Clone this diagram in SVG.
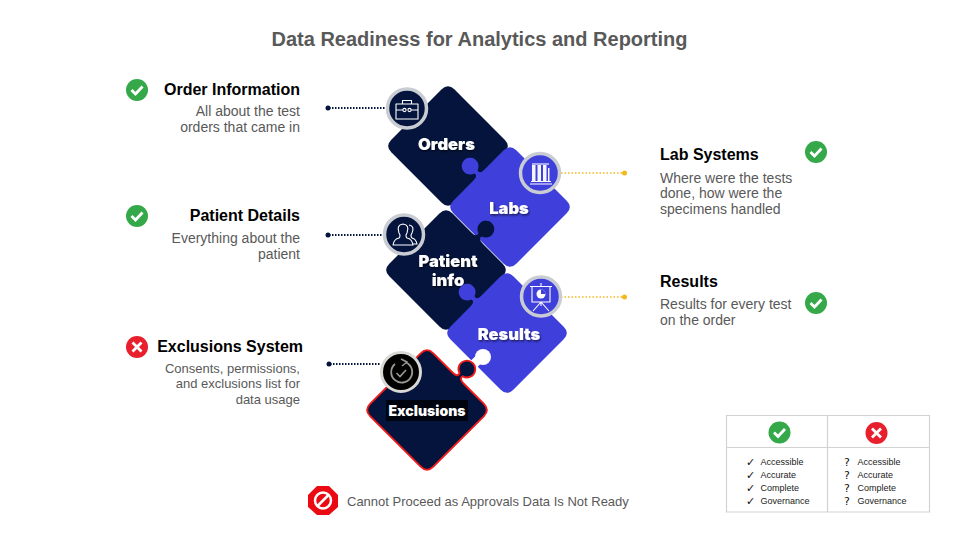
<svg xmlns="http://www.w3.org/2000/svg" xmlns:xlink="http://www.w3.org/1999/xlink" width="960" height="540" viewBox="0 0 960 540">
<style>
text{font-family:"Liberation Sans",Arial,sans-serif}
.title{font-size:20px;font-weight:700;fill:#595959;text-anchor:middle}
.h{font-size:16px;font-weight:700;fill:#000}
.d{font-size:14px;fill:#595959}
.e{text-anchor:end}
.p{font-family:Inter,"Liberation Sans",sans-serif;font-size:16.5px;font-weight:900;fill:#fff;text-anchor:middle}
.navy{fill:#05143c}
.blue{fill:#3f3fdc}
.ring{stroke:#c9ccd2;stroke-width:3.5}
.ic{fill:none;stroke:#fff;stroke-width:1.1;stroke-linejoin:round}
.t{font-size:9px;fill:#222}
.m{font-family:"DejaVu Sans",sans-serif;font-size:11px;fill:#111}
.dl{fill:none;stroke:#05143c;stroke-width:2;stroke-dasharray:1.5 1.5}
.yl{fill:none;stroke:#f5b81c;stroke-width:1.5;stroke-dasharray:1.5 2}
.grid{fill:none;stroke:#d2d2d2;stroke-width:1.2}
</style>
<defs>
<path id="pr" d="M-6,-54 L-24.500,-35.500 Q-29,-31 -31,-35 A8 8 0 1 0 -34,-32 Q-30,-30 -35.500,-24.500 L-54,-6 Q-60,0 -54,6 L-6,54 Q0,60 6,54 L54,6 Q60,0 54,-6 L6,-54 Q0,-60 -6,-54Z"/>
<path id="pl" d="M-6,-54 Q0,-60 6,-54 L24.500,-35.500 Q29,-31 31,-35 A8 8 0 1 1 34,-32 Q30,-30 35.500,-24.500 L54,-6 Q60,0 54,6 L6,54 Q0,60 -6,54 L-54,6 Q-60,0 -54,-6Z"/>
<path id="pd" d="M-6,-54 Q0,-60 6,-54 L54,-6 Q60,0 54,6 L6,54 Q0,60 -6,54 L-54,6 Q-60,0 -54,-6Z"/>
<g id="ok"><circle r="11" fill="#35a84a"/><path d="M-5.500,0 L-1.500,4 L5.500,-3.500" fill="none" stroke="#fff" stroke-width="2.800"/></g>
<g id="no"><circle r="11" fill="#e8202e"/><path d="M-4.500,-4.500 L4.500,4.500 M4.500,-4.500 L-4.500,4.500" fill="none" stroke="#fff" stroke-width="2.800"/></g>
<filter id="sh" x="-20%" y="-30%" width="140%" height="170%"><feDropShadow dx="1" dy="1.500" stdDeviation="1" flood-color="#000" flood-opacity=".6"/></filter>
</defs>
<rect width="960" height="540" fill="#fff"/>
<text class="title" x="479.500" y="46">Data Readiness for Analytics and Reporting</text>

<g id="connectors">
<path class="dl" d="M329,108H387M329,235H384M330,364H381"/>
<circle cx="328" cy="108" r="2.500" fill="#05143c"/>
<circle cx="328" cy="235" r="2.500" fill="#05143c"/>
<circle cx="329" cy="364" r="2.500" fill="#05143c"/>
<path class="yl" d="M561,173H623M561,297H623"/>
<circle cx="624.500" cy="173" r="2.500" fill="#f5b81c"/>
<circle cx="624.500" cy="297" r="2.500" fill="#f5b81c"/>
</g>

<g id="node-orders">
<use href="#pd" class="navy" transform="translate(448,146) scale(1.05)"/>
</g>
<g id="node-labs">
<use href="#pr" class="blue" transform="translate(510,207) scale(1.05)"/>
<text class="p" x="509" y="213.500" filter="url(#sh)">Labs</text>
</g>
<g id="node-patient">
<use href="#pl" class="navy" transform="translate(446,270) scale(1.05)"/>
<text class="p" x="448" y="267" filter="url(#sh)">Patient</text>
<text class="p" x="448" y="286" filter="url(#sh)">info</text>
</g>
<text class="p" x="446.500" y="150" filter="url(#sh)">Orders</text>
<g id="node-results">
<use href="#pr" class="blue" transform="translate(507,333) scale(1.05)"/>
<path d="M470,368 L478,360" stroke="#fff" stroke-width="9" fill="none"/>
<circle cx="483" cy="357" r="8" fill="#fff"/>
<text class="p" x="509" y="339.500" filter="url(#sh)">Results</text>
</g>
<g id="node-exclusions">
<use href="#pl" class="navy" transform="translate(427,410) scale(1.05)" stroke="#f01c1c" stroke-width="1.800"/>
<rect x="386" y="400" width="82" height="21" fill="#00040f"/>
<text class="p" x="427" y="416" style="font-size:14px">Exclusions</text>
</g>

<g id="icon-orders">
<circle cx="407" cy="108.500" r="19.500" class="navy ring"/>
<path class="ic" d="M396,104H418V119H396ZM402.500,104V100.500H411.500V104M396,110H403M411,110H418"/>
<circle class="ic" cx="404.500" cy="110" r="1.600"/><circle class="ic" cx="409.500" cy="110" r="1.600"/>
</g>
<g id="icon-labs">
<circle cx="540" cy="173" r="19.500" class="blue ring"/>
<path class="ic" d="M530,184H552M531,181.500H551"/>
<path d="M532,165h3.500v16h-3.500zM537.500,165h3.500v16h-3.500zM543,165h3.500v16h-3.500zM548,168h1.500v13h-1.500z" fill="#fff" opacity=".95"/>
<path class="ic" d="M532,164h17"/>
</g>
<g id="icon-patient">
<circle cx="404" cy="234.500" r="19.500" class="navy ring"/>
<path class="ic" d="M393,245 Q394,239 399,238 Q401,236 399,233 Q396,225 403,224 Q410,225 407,233 Q405,236 407,238 Q412,239 413,245Z"/>
<path class="ic" d="M409,225 Q415,226 412,233 Q410,236 412,238 Q416,239 417,244H413"/>
</g>
<g id="icon-results">
<circle cx="541" cy="296.500" r="19.500" class="blue ring"/>
<path class="ic" d="M530,286.500H552M532,286.500V302H550V286.500M541,283V286.500M541,302V306M541,302L533,311M541,302L549,311"/>
<circle cx="541" cy="294" r="4.500" fill="#fff"/>
<path d="M541,294V289.500A4.500 4.500 0 0 1 545.500,294Z" fill="#3f3fdc"/>
</g>
<g id="icon-exclusions">
<circle cx="401" cy="372" r="19.500" fill="#000" stroke="#d8d8d4" stroke-width="3"/>
<path d="M395,364 A10.500 10.500 0 1 0 406,362.500" fill="none" stroke="#9a9a94" stroke-width="1.800"/>
<path d="M401,359 L407,362 L402,366" fill="none" stroke="#9a9a94" stroke-width="1.400"/>
<path d="M396.500,373 L400,376.500 L406,370" fill="none" stroke="#9a9a94" stroke-width="1.600"/>
</g>

<g id="label-order">
<use href="#ok" x="137" y="90"/>
<text class="h e" x="300" y="95">Order Information</text>
<text class="d e" x="300" y="116">All about the test</text>
<text class="d e" x="300" y="132">orders that came in</text>
</g>
<g id="label-patient">
<use href="#ok" x="137" y="216"/>
<text class="h e" x="300" y="221">Patient Details</text>
<text class="d e" x="300" y="243">Everything about the</text>
<text class="d e" x="300" y="259">patient</text>
</g>
<g id="label-exclusions">
<use href="#no" x="137" y="347"/>
<text class="h e" x="303" y="352">Exclusions System</text>
<text class="d e" x="300" y="373" style="font-size:13px">Consents, permissions,</text>
<text class="d e" x="300" y="388" style="font-size:13px">and exclusions list for</text>
<text class="d e" x="300" y="404" style="font-size:13px">data usage</text>
</g>
<g id="label-lab">
<use href="#ok" x="816" y="152"/>
<text class="h" x="660" y="160">Lab Systems</text>
<text class="d" x="660" y="183">Where were the tests</text>
<text class="d" x="660" y="198">done, how were the</text>
<text class="d" x="660" y="214">specimens handled</text>
</g>
<g id="label-results">
<use href="#ok" x="816" y="303"/>
<text class="h" x="660" y="287">Results</text>
<text class="d" x="660" y="309">Results for every test</text>
<text class="d" x="660" y="325">on the order</text>
</g>

<g id="legend">
<path class="grid" d="M726.500,415.500H929.500V512H726.500ZM726.500,447.500H929.500M827.500,415.500V512"/>
<use href="#ok" x="779.500" y="432.500"/>
<use href="#no" x="876.500" y="433"/>
<text class="m" x="746" y="466">✓</text><text class="t" x="760.500" y="465">Accessible</text>
<text class="m" x="746" y="479">✓</text><text class="t" x="760.500" y="478">Accurate</text>
<text class="m" x="746" y="492">✓</text><text class="t" x="760.500" y="491">Complete</text>
<text class="m" x="746" y="505">✓</text><text class="t" x="760.500" y="504">Governance</text>
<text class="m" x="844" y="466">?</text><text class="t" x="857.500" y="465">Accessible</text>
<text class="m" x="844" y="479">?</text><text class="t" x="857.500" y="478">Accurate</text>
<text class="m" x="844" y="492">?</text><text class="t" x="857.500" y="491">Complete</text>
<text class="m" x="844" y="505">?</text><text class="t" x="857.500" y="504">Governance</text>
</g>

<g id="status">
<polygon points="317,486 329,486 338,495 338,507 329,515 317,515 308,507 308,495" fill="#ea0a14"/>
<circle cx="323" cy="500.500" r="8" fill="none" stroke="#fff" stroke-width="2.500"/>
<path d="M317.500,506 L328.500,495" stroke="#fff" stroke-width="2.500"/>
<text x="347" y="506" font-size="13" fill="#595959">Cannot Proceed as Approvals Data Is Not Ready</text>
</g>
</svg>
